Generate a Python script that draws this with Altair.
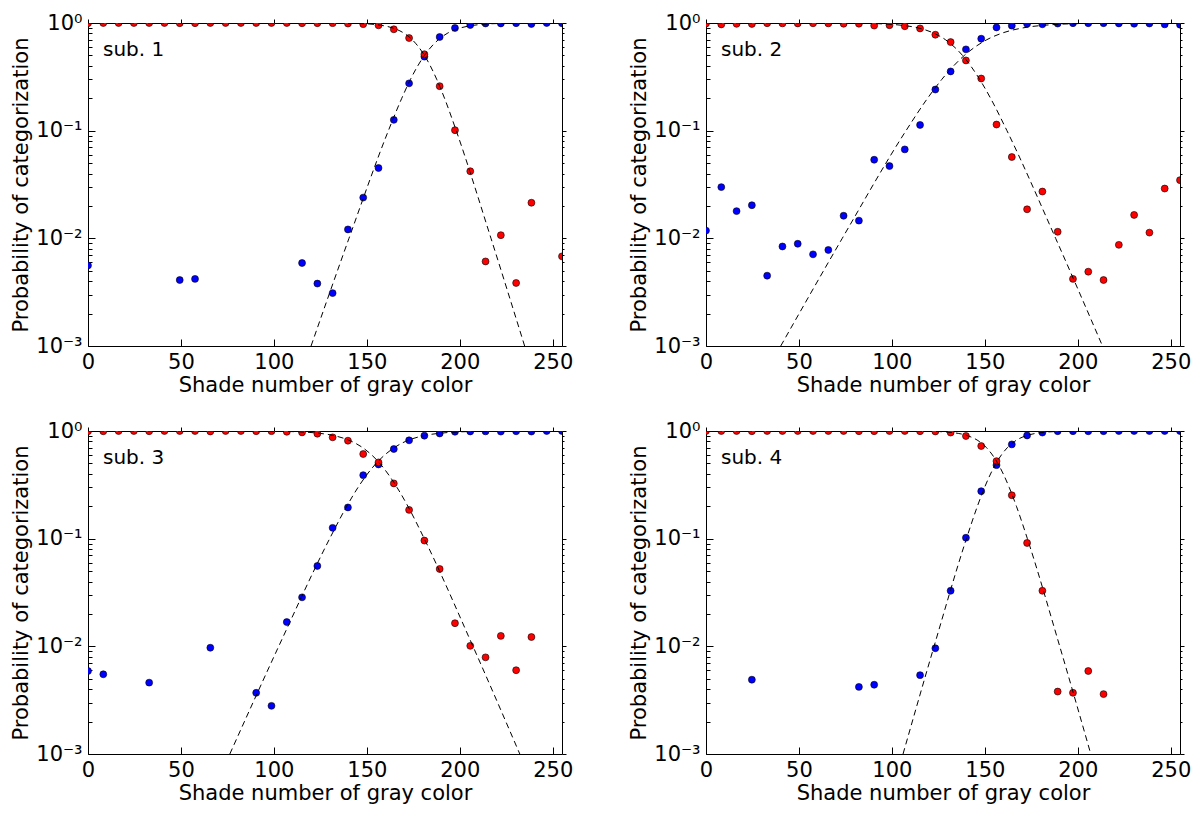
import altair as alt
import pandas as pd

# ---------------- data ----------------
SHADES = [0.0, 8.23, 16.45, 24.68, 32.9, 41.13, 49.35, 57.58, 65.81, 74.03, 82.26,
          90.48, 98.71, 106.94, 115.16, 123.39, 131.61, 139.84, 148.06, 156.29, 164.52,
          172.74, 180.97, 189.19, 197.42, 205.65, 213.87, 222.1, 230.32, 238.55, 246.77, 255.0]

N = None
BLUE_1 = [0.0056, N, N, N, N, N, 0.0041, 0.0042, N, N, N, N, N, N, 0.0059, 0.0038,
          0.0031, 0.0121, 0.0239, 0.045, 0.126, 0.275, 0.487, 0.741, 0.899, 0.958,
          0.99, 0.99, 0.996, 0.979, 1.0, 0.993]
RED_1 = [0.994, 1.0, 1.0, 1.0, 1.0, 1.0, 0.996, 0.996, 1.0, 1.0, 1.0, 1.0, 1.0, 1.0,
         0.994, 0.996, 0.997, 0.988, 0.976, 0.951, 0.874, 0.725, 0.513, 0.259, 0.101,
         0.042, 0.0061, 0.0107, 0.00385, 0.0214, N, 0.0068]

BLUE_2 = [0.0118, 0.0299, 0.0179, 0.0203, 0.0045, 0.0084, 0.0089, 0.0071, 0.0078,
          0.0162, 0.0146, 0.0537, 0.0469, 0.067, 0.113, 0.241, 0.355, 0.569, 0.715,
          0.91, 0.945, 0.982, 0.973, 0.988, 0.996, 0.995, 0.996, 0.991, 0.984, 0.989,
          0.971, 0.965]
RED_2 = [0.988, 0.970, 0.982, 0.980, 0.995, 0.992, 0.991, 0.993, 0.992, 0.984, 0.985,
         0.946, 0.953, 0.933, 0.89, 0.778, 0.665, 0.449, 0.305, 0.114, 0.0569, 0.0186,
         0.0272, 0.0115, 0.0042, 0.0049, 0.0041, 0.0087, 0.0165, 0.0113, 0.029, 0.0347]

BLUE_3 = [0.0059, 0.0055, N, N, 0.0046, N, N, N, 0.0097, N, N, 0.0037, 0.0028, 0.0168,
          0.0285, 0.0558, 0.126, 0.195, 0.389, 0.489, 0.68, 0.819, 0.905, 0.948, 0.984,
          0.99, 0.992, 0.987, 0.994, 0.988, 1.0, 1.0]
RED_3 = [0.994, 0.994, 1.0, 1.0, 0.995, 1.0, 1.0, 1.0, 0.99, 1.0, 1.0, 0.996, 0.997,
         0.983, 0.971, 0.944, 0.873, 0.813, 0.611, 0.511, 0.326, 0.185, 0.096, 0.0523,
         0.0164, 0.0101, 0.0079, 0.0125, 0.006, 0.0122, N, N]

BLUE_4 = [N, N, N, 0.0049, N, N, N, N, N, N, 0.0042, 0.0044, N, N, 0.0054, 0.0096,
          0.0328, 0.102, 0.276, 0.482, 0.751, 0.909, 0.967, 0.996, 0.996, 0.994, 0.996,
          1.0, 1.0, 1.0, 1.0, 1.0]
RED_4 = [1.0, 1.0, 1.0, 0.995, 1.0, 1.0, 1.0, 1.0, 1.0, 1.0, 0.996, 0.996, 1.0, 1.0,
         0.995, 0.99, 0.967, 0.898, 0.725, 0.525, 0.253, 0.0912, 0.0328, 0.0038, 0.0037,
         0.0059, 0.0036, N, N, N, N, N]

# dashed fitted curves: probability levels and the shade where each curve reaches them
FIT_P = [0.001, 0.01, 0.1, 0.2, 0.3, 0.5, 0.7, 0.8, 0.9, 0.95, 0.99, 0.999, 0.9999]
BFIT_1 = [120.0, 140.4, 161.6, 168.8, 173.5, 181.0, 188.5, 193.2, 200.4, 207.0, 221.6, 242.0, 255.0]
RFIT_1 = [234.9, 216.8, 198.1, 191.8, 187.6, 181.0, 174.4, 170.2, 163.9, 158.0, 145.2, 127.1, 0.0]
BFIT_2 = [40.2, 73.3, 107.6, 119.2, 126.9, 139.0, 151.1, 158.8, 170.4, 181.1, 204.7, 237.8, 255.0]
RFIT_2 = [213.3, 188.1, 161.9, 153.1, 147.2, 138.0, 128.8, 122.9, 114.1, 105.9, 87.9, 62.7, 0.0]
BFIT_3 = [76.3, 102.6, 130.0, 139.2, 145.3, 155.0, 164.7, 170.8, 180.0, 188.6, 207.4, 233.7, 255.0]
RFIT_3 = [232.3, 207.1, 180.9, 172.1, 166.2, 157.0, 147.8, 141.9, 133.1, 124.9, 106.9, 81.7, 0.0]
BFIT_4 = [106.0, 122.7, 140.1, 146.0, 149.9, 156.0, 162.1, 166.0, 171.9, 177.3, 189.3, 206.0, 255.0]
RFIT_4 = [207.0, 190.3, 172.9, 167.0, 163.1, 157.0, 150.9, 147.0, 141.1, 135.7, 123.7, 107.0, 0.0]

X_TICKS = [0, 50, 100, 150, 200, 250]
Y_TICKS = [0.001, 0.01, 0.1, 1.0]
Y_MINOR = [2e-3, 3e-3, 4e-3, 5e-3, 6e-3, 7e-3, 8e-3, 9e-3,
           2e-2, 3e-2, 4e-2, 5e-2, 6e-2, 7e-2, 8e-2, 9e-2,
           0.2, 0.3, 0.4, 0.5, 0.6, 0.7, 0.8, 0.9]
LABELS = ["sub. 1", "sub. 2", "sub. 3", "sub. 4"]

PANELS = [(BLUE_1, RED_1, BFIT_1, RFIT_1), (BLUE_2, RED_2, BFIT_2, RFIT_2),
          (BLUE_3, RED_3, BFIT_3, RFIT_3), (BLUE_4, RED_4, BFIT_4, RFIT_4)]

# ---------------- styling ----------------
W, H = 474, 323
FONT = "DejaVu Sans"
FS = 21
MAJ, MIN_, OUT = 7, 4, 4

xs = alt.Scale(domain=[0, 255], nice=False, zero=False)
ys = alt.Scale(type="log", domain=[0.001, 1], nice=False)

LABEL_EXPR = ("datum.value > 0.5 ? '10⁰' : datum.value > 0.05 ? '10⁻¹' : "
              "datum.value > 0.005 ? '10⁻²' : '10⁻³'")

common = dict(domain=False, grid=False, tickColor="black", tickWidth=1)

ax_bottom = alt.Axis(values=X_TICKS, orient="bottom", offset=-MAJ, tickSize=MAJ,
                     labelFontSize=FS, labelFont=FONT, labelColor="black", labelPadding=5,
                     labelFlush=False, title="Shade number of gray color", titleFont=FONT,
                     titleFontSize=FS, titleFontWeight="normal", titleColor="black",
                     titlePadding=2, **common)
ax_top = alt.Axis(values=X_TICKS, orient="top", tickSize=OUT, labels=False, title=None, **common)
ax_left = alt.Axis(values=Y_TICKS, orient="left", offset=-MAJ, tickSize=MAJ, labelExpr=LABEL_EXPR,
                   labelFontSize=FS, labelFont=FONT, labelColor="black", labelPadding=6,
                   labelFlush=False, title="Probability of categorization", titleFont=FONT,
                   titleFontSize=FS, titleFontWeight="normal", titleColor="black",
                   titlePadding=4, **common)
ax_left_minor = alt.Axis(values=Y_MINOR, orient="left", offset=-MIN_, tickSize=MIN_,
                         labels=False, title=None, **common)
ax_right = alt.Axis(values=Y_TICKS, orient="right", tickSize=OUT, labels=False, title=None, **common)
ax_right_minor = alt.Axis(values=Y_MINOR, orient="right", tickSize=OUT - 2, labels=False,
                          title=None, **common)


def panel(k):
    blue, red, bfit, rfit = PANELS[k]
    pts = pd.DataFrame({"shade": SHADES, "blue": blue, "red": red})
    fit = pd.DataFrame({"p": FIT_P, "bx": bfit, "rx": rfit})

    pb = alt.Chart(pts).transform_filter("isValid(datum.blue)").mark_circle(
        size=48, color="#0000ff", stroke="black", strokeWidth=0.6, opacity=1, clip=True
    ).encode(x=alt.X("shade:Q", scale=xs, axis=ax_bottom),
             y=alt.Y("blue:Q", scale=ys, axis=ax_left))
    pr = alt.Chart(pts).transform_filter("isValid(datum.red)").mark_circle(
        size=48, color="#ff0000", stroke="black", strokeWidth=0.6, opacity=1, clip=True
    ).encode(x=alt.X("shade:Q", scale=xs, axis=ax_top),
             y=alt.Y("red:Q", scale=ys, axis=ax_left_minor))
    lb = alt.Chart(fit).mark_line(color="black", strokeWidth=1, strokeDash=[6, 4],
                                  interpolate="monotone", clip=True).encode(
        x=alt.X("bx:Q", scale=xs, axis=None),
        y=alt.Y("p:Q", scale=ys, axis=ax_right))
    lr = alt.Chart(fit).mark_line(color="black", strokeWidth=1, strokeDash=[6, 4],
                                  interpolate="monotone", clip=True).encode(
        x=alt.X("rx:Q", scale=xs, axis=None),
        y=alt.Y("p:Q", scale=ys, axis=ax_right_minor))
    tx = alt.Chart(pd.DataFrame({"label": [LABELS[k]]})).mark_text(
        align="left", baseline="alphabetic", font=FONT, fontSize=20, color="black"
    ).encode(x=alt.value(15), y=alt.value(33), text="label:N")

    return alt.layer(pb, pr, lb, lr, tx).resolve_axis(x="independent", y="independent") \
        .properties(width=W, height=H)


chart = alt.concat(panel(0), panel(1), panel(2), panel(3), columns=2,
                   spacing={"row": 85, "column": 144}, bounds="flush").properties(
    padding={"left": 2, "top": 3, "right": 0, "bottom": 0}
).configure(font=FONT, background="white").configure_view(stroke="black", strokeWidth=1)

chart.save("out.html", embed_options={"renderer": "svg", "actions": False})
